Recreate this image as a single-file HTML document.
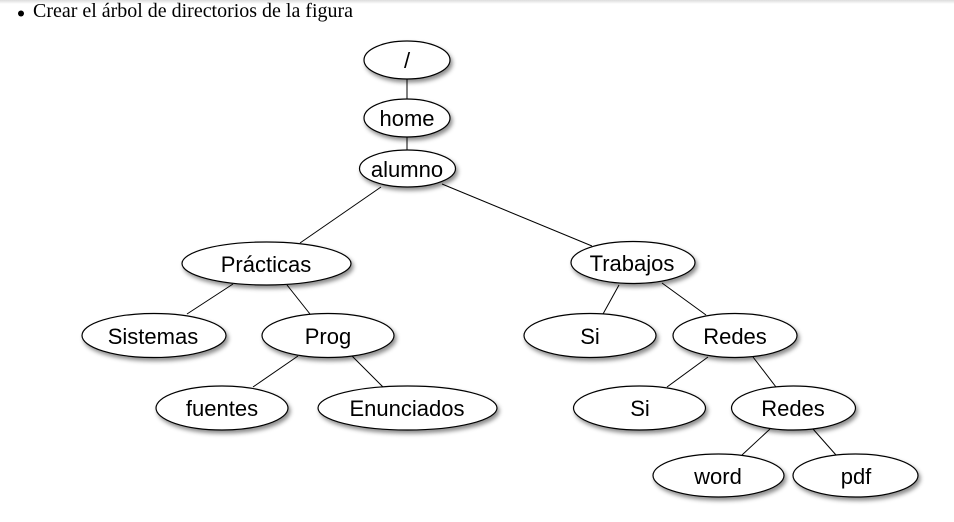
<!DOCTYPE html>
<html><head><meta charset="utf-8"><style>
html,body{margin:0;padding:0;background:#fff;width:954px;height:522px;overflow:hidden}
svg{display:block}
</style></head><body>
<svg width="954" height="522" viewBox="0 0 954 522" xmlns="http://www.w3.org/2000/svg">
<defs>
<linearGradient id="tg" x1="0" y1="0" x2="0" y2="1">
<stop offset="0" stop-color="#dcdcdc"/><stop offset="1" stop-color="#ffffff"/>
</linearGradient>
<filter id="sh" x="-20%" y="-30%" width="150%" height="180%">
<feDropShadow dx="2" dy="3" stdDeviation="2" flood-color="#000" flood-opacity="0.45"/>
</filter>
</defs>
<rect x="0" y="0" width="954" height="4" fill="url(#tg)"/>
<circle cx="21" cy="13.5" r="3" fill="#000"/>
<text x="33" y="17" font-family="'Liberation Serif', serif" font-size="19.5" textLength="320" lengthAdjust="spacingAndGlyphs" fill="#000">Crear el árbol de directorios de la figura</text>

<g stroke="#000" stroke-width="1" fill="none">
<line x1="407" y1="79" x2="407" y2="99"/>
<line x1="407" y1="137" x2="407" y2="151"/>
<line x1="381" y1="187" x2="300" y2="243"/>
<line x1="442" y1="184" x2="592" y2="246"/>
<line x1="233" y1="284" x2="187" y2="314"/>
<line x1="287" y1="285" x2="310" y2="314"/>
<line x1="298" y1="356" x2="253" y2="387"/>
<line x1="352" y1="356" x2="383" y2="387"/>
<line x1="619" y1="285" x2="603" y2="314"/>
<line x1="662" y1="283" x2="706" y2="315"/>
<line x1="708" y1="357" x2="667" y2="387"/>
<line x1="753" y1="357" x2="776" y2="387"/>
<line x1="770" y1="429" x2="742" y2="455"/>
<line x1="813" y1="429" x2="836" y2="455"/>
</g>

<g fill="#fff" stroke="#000" stroke-width="1.2" filter="url(#sh)">
<ellipse cx="407" cy="60" rx="43" ry="19"/>
<ellipse cx="407" cy="118" rx="43" ry="19"/>
<ellipse cx="407.5" cy="168.5" rx="48" ry="18.5"/>
<ellipse cx="266.5" cy="263.5" rx="84.5" ry="21.5"/>
<ellipse cx="633" cy="262.5" rx="62" ry="21"/>
<ellipse cx="154" cy="335.5" rx="72" ry="22"/>
<ellipse cx="328" cy="335.5" rx="66" ry="22"/>
<ellipse cx="590" cy="335.5" rx="66" ry="22"/>
<ellipse cx="735" cy="335.5" rx="62" ry="22"/>
<ellipse cx="222" cy="408" rx="66" ry="22"/>
<ellipse cx="407.5" cy="408" rx="89.5" ry="22"/>
<ellipse cx="639.5" cy="408" rx="66" ry="22"/>
<ellipse cx="793.5" cy="408" rx="62" ry="22"/>
<ellipse cx="718.5" cy="475.5" rx="65.5" ry="21.5"/>
<ellipse cx="855.5" cy="475.5" rx="62.5" ry="21.5"/>
</g>

<g font-family="'Liberation Sans', Arial, sans-serif" font-size="22" fill="#000" text-anchor="middle">
<text x="407" y="68">/</text>
<text x="407" y="126">home</text>
<text x="407" y="177">alumno</text>
<text x="266" y="272">Prácticas</text>
<text x="632" y="271">Trabajos</text>
<text x="153" y="344">Sistemas</text>
<text x="328" y="344">Prog</text>
<text x="590" y="344">Si</text>
<text x="735" y="344">Redes</text>
<text x="222" y="416">fuentes</text>
<text x="407" y="416">Enunciados</text>
<text x="640" y="416">Si</text>
<text x="793" y="416">Redes</text>
<text x="718" y="484">word</text>
<text x="856" y="484">pdf</text>
</g>
</svg>
</body></html>
